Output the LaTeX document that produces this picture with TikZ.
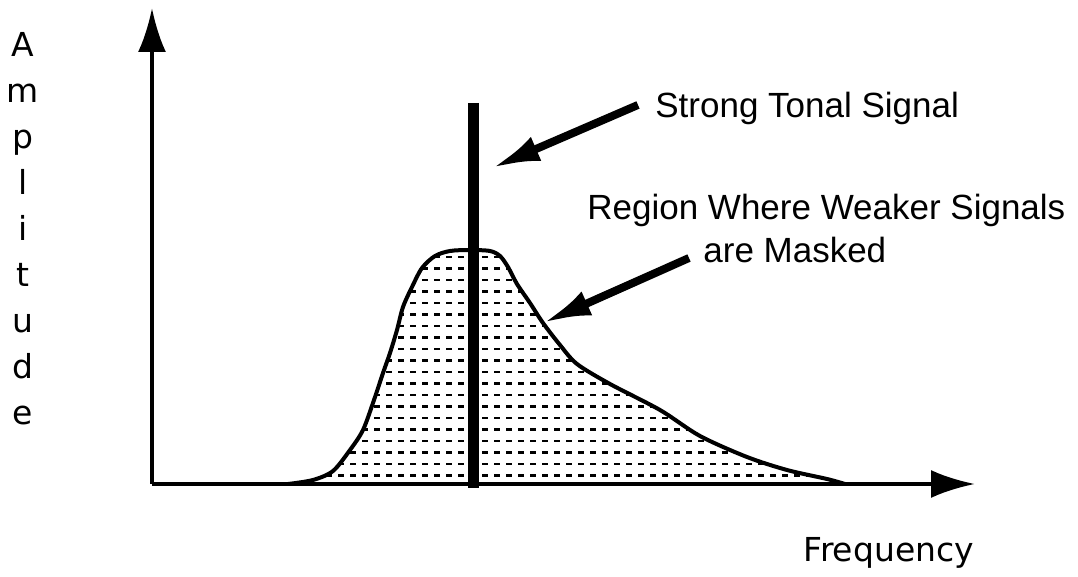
\documentclass[tikz,border=0pt]{standalone}
\usepackage{fontspec}
\setmainfont{Liberation Sans}
\newfontfamily\pixfont{DejaVu Sans}
\usetikzlibrary{arrows.meta}

\def\maskedcurve{plot[smooth, tension=0.5] coordinates {(288,484) (313,480) (333,471) (350,450) (363,430) (374,400) (383,373) (390,353) (397,330) (403,307) (412,287) (422,268) (435,256) (450,251) (470,250) (490,251) (500,256) (508,267) (517,284) (530,303) (543,323) (560,345) (577,364) (610,384) (660,410) (700,436) (747,457) (787,470) (827,479) (845,484)}}

\begin{document}
\begin{tikzpicture}[
    x=0.5pt, y=-0.5pt,
    axis/.style={line width=2pt, -{Latex[length=22pt, width=14pt]}},
    callout/.style={line width=4pt, -{Latex[length=24pt, width=13pt]}},
    note/.style={font=\fontsize{17.5}{21}\selectfont, inner sep=0pt},
    axistext/.style={font=\pixfont\fontsize{16.5}{23}\selectfont, inner sep=0pt, align=center},
    hatch/.style={line width=1.1pt, dash pattern=on 3pt off 3pt}
  ]
  \useasboundingbox (0,0) rectangle (1078,577);

  % axes
  \coordinate (origin) at (152,484);
  \coordinate (ytip) at (152,8);
  \coordinate (xtip) at (975,484);
  \draw[axis] (origin) -- (ytip);
  \draw[axis] (origin) -- (xtip);
  \node[axistext, anchor=north] (amp) at (23,32) {A\\m\\p\\l\\i\\t\\u\\d\\e};
  \node[axistext, anchor=base west] (freq) at (803,562) {Frequency};

  % masked region
  \begin{scope}
    \clip \maskedcurve -- cycle;
    \foreach \k in {0,...,19}
      \draw[hatch] (290,{257+11.5*\k}) -- (850,{257+11.5*\k});
  \end{scope}
  \draw[line width=2pt, line join=round] \maskedcurve;

  % tonal signal
  \coordinate (sigtop) at (473,103);
  \coordinate (sigbot) at (473,488);
  \draw[line width=5.5pt] (sigtop) -- (sigbot);

  % labels
  \node[note, anchor=base west] (tonal) at (655,118) {Strong Tonal Signal};
  \node[note, anchor=base west] (region) at (587,220) {Region Where Weaker Signals};
  \node[note, anchor=base west] (masked) at (703,263) {are Masked};
  \coordinate (tonaltip) at (492,168);
  \coordinate (maskedtip) at (543,323);
  \draw[callout] ([xshift=-8.5pt, yshift=2pt]tonal.west) -- (tonaltip);
  \draw[callout] ([xshift=-7pt, yshift=2.5pt]masked.base west) -- (maskedtip);
\end{tikzpicture}
\end{document}
